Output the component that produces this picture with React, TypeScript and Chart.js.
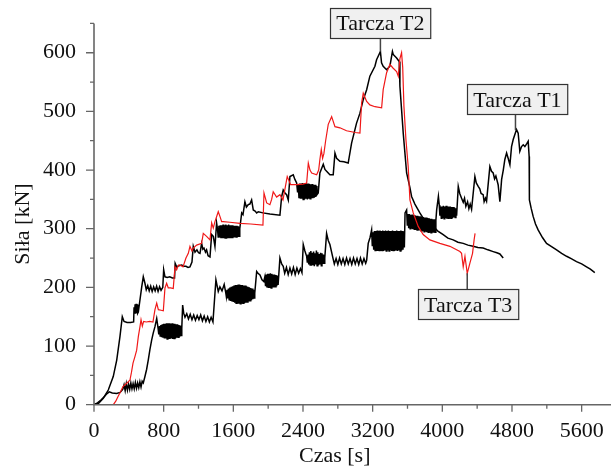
import React, { useEffect, useRef } from "react";
import { Chart, registerables } from "chart.js";

Chart.register(...registerables);

const FONT = '"Liberation Serif", "DejaVu Serif", serif';

const xMajorTicks = [0, 800, 1600, 2400, 3200, 4000, 4800, 5600];
const xMinorTicks = [400, 1200, 2000, 2800, 3600, 4400, 5200];
const yMajorTicks = [0, 100, 200, 300, 400, 500, 600];
const yMinorTicks = [50, 150, 250, 350, 450, 550, 650];
const xTitle = "Czas [s]";
const yTitle = "Siła [kN]";

const seriesNames = ["Tarcza T1", "Tarcza T2", "Tarcza T3"];
// anchor points (time, force) where each callout's leader meets its curve
const calloutAnchors: [number, number][] = [
  [4840, 468],
  [3289, 602],
  [4286, 224],
];

// Tarcza T1 (lower black curve) [time s, force kN]
const seriesT1: [number, number][] = [
  [0, 0], [40, 3], [80, 8], [120, 14], [150, 19], [175, 22], [210, 20], [260, 19], [300, 21], [330, 26],
  [345, 34], [358, 24], [371, 36], [384, 25], [397, 35], [410, 26], [423, 37], [436, 27], [449, 36], [462, 27],
  [475, 38], [488, 28], [501, 37], [514, 29], [527, 39], [540, 30], [553, 40], [566, 37],
  [585, 48], [604, 60], [623, 76], [642, 94], [662, 110], [680, 122], [700, 133], [720, 147],
  [736, 130], [744, 120], [752, 134], [760, 117], [768, 136], [776, 115], [784, 137], [792, 114], [800, 138],
  [808, 113], [816, 138], [824, 113], [832, 139], [840, 112], [848, 139], [856, 112], [864, 139], [872, 112],
  [880, 138], [888, 113], [896, 139], [904, 112], [912, 138], [920, 113], [928, 138], [936, 113], [944, 137],
  [952, 114], [960, 137], [968, 115], [976, 136], [984, 116], [992, 135], [1000, 118], [1008, 130],
  [1018, 170], [1030, 156],
  [1045, 149], [1065, 155], [1085, 146], [1105, 154], [1125, 145], [1145, 153], [1165, 144], [1185, 152],
  [1205, 145], [1225, 153], [1245, 143], [1265, 151], [1285, 142], [1305, 150], [1325, 141], [1345, 149], [1366, 141],
  [1400, 213], [1427, 193], [1446, 201], [1470, 194], [1495, 205],
  [1512, 192], [1520, 184], [1528, 196], [1536, 181], [1544, 198], [1552, 179], [1560, 200], [1568, 177],
  [1576, 201], [1584, 176], [1592, 202], [1600, 175], [1608, 203], [1616, 174], [1624, 204], [1632, 173],
  [1640, 204], [1648, 172], [1656, 205], [1664, 172], [1672, 205], [1680, 172], [1688, 204], [1696, 172],
  [1704, 204], [1712, 173], [1720, 203], [1728, 173], [1736, 203], [1744, 174], [1752, 202], [1760, 175],
  [1768, 201], [1776, 176], [1784, 200], [1792, 177], [1800, 199], [1808, 178], [1816, 198], [1824, 180],
  [1832, 196], [1840, 182], [1846, 190],
  [1868, 227], [1883, 224], [1906, 221], [1929, 213], [1950, 210],
  [1962, 218], [1970, 202], [1978, 222], [1986, 200], [1994, 223], [2002, 199], [2010, 223], [2018, 199],
  [2026, 224], [2034, 199], [2042, 223], [2050, 200], [2058, 222], [2066, 200], [2074, 222], [2082, 201],
  [2090, 221], [2098, 202], [2106, 220], [2114, 204],
  [2135, 250], [2155, 240], [2173, 236],
  [2190, 224], [2210, 234], [2230, 222], [2250, 233], [2270, 223], [2290, 234], [2310, 222], [2330, 233],
  [2350, 224], [2370, 232], [2388, 225],
  [2403, 273], [2422, 262], [2442, 253],
  [2450, 242], [2458, 256], [2466, 239], [2474, 260], [2482, 238], [2490, 262], [2498, 237], [2506, 259],
  [2514, 238], [2522, 261], [2530, 236], [2538, 258], [2546, 239], [2554, 263], [2562, 237], [2570, 260],
  [2578, 238], [2586, 257], [2594, 239], [2602, 259], [2610, 237], [2618, 258], [2626, 240], [2634, 256],
  [2642, 241], [2650, 250],
  [2671, 292], [2690, 280], [2709, 273], [2744, 250],
  [2760, 240], [2780, 249], [2800, 239], [2820, 250], [2840, 240], [2860, 249], [2880, 239], [2900, 250],
  [2920, 240], [2940, 249], [2960, 239], [2980, 250], [3000, 240], [3020, 249], [3040, 239], [3060, 250],
  [3080, 240], [3100, 249], [3120, 241], [3131, 246],
  [3149, 275], [3170, 285], [3188, 298],
  [3196, 270], [3204, 294], [3212, 264], [3220, 296], [3228, 263], [3236, 296], [3244, 262], [3252, 297],
  [3260, 262], [3268, 296], [3276, 263], [3284, 297], [3292, 262], [3300, 296], [3308, 263], [3316, 297],
  [3324, 262], [3332, 296], [3340, 263], [3348, 297], [3356, 262], [3364, 296], [3372, 263], [3380, 297],
  [3388, 262], [3396, 296], [3404, 263], [3412, 296], [3420, 262], [3428, 297], [3436, 263], [3444, 296],
  [3452, 262], [3460, 296], [3468, 263], [3476, 297], [3484, 262], [3492, 296], [3500, 263], [3508, 296],
  [3516, 262], [3524, 297], [3532, 263], [3540, 296], [3548, 264], [3556, 295], [3564, 268],
  [3572, 327], [3590, 332],
  [3598, 305], [3606, 325], [3614, 301], [3622, 325], [3630, 300], [3638, 324], [3646, 300], [3654, 324],
  [3662, 299], [3670, 323], [3678, 299], [3686, 323], [3694, 298], [3702, 322], [3710, 298], [3718, 322],
  [3726, 297], [3734, 321], [3742, 297], [3750, 321], [3758, 296], [3766, 320], [3774, 296], [3782, 320],
  [3790, 295], [3798, 319], [3806, 295], [3814, 319], [3822, 294], [3830, 318], [3838, 294], [3846, 318],
  [3854, 293], [3862, 317], [3870, 293], [3878, 317], [3886, 293], [3894, 316], [3902, 293], [3910, 316],
  [3918, 294], [3926, 314],
  [3935, 332], [3955, 355], [3965, 340],
  [3972, 322], [3980, 338], [3988, 318], [3996, 338], [4004, 318], [4012, 339], [4020, 317], [4028, 338],
  [4036, 318], [4044, 339], [4052, 317], [4060, 338], [4068, 318], [4076, 338], [4084, 317], [4092, 338],
  [4100, 318], [4108, 337], [4116, 318], [4124, 337], [4132, 319], [4140, 336], [4148, 319], [4156, 335], [4164, 322],
  [4183, 372], [4200, 360], [4221, 352], [4240, 345], [4255, 352], [4270, 338], [4290, 346], [4305, 334],
  [4320, 342], [4336, 333],
  [4374, 389], [4390, 378], [4412, 372], [4430, 368], [4445, 360], [4469, 358], [4480, 346], [4495, 352], [4508, 347],
  [4546, 406], [4565, 398], [4584, 395], [4600, 385], [4615, 390], [4641, 375], [4661, 346], [4681, 384],
  [4700, 400], [4718, 418], [4738, 429], [4756, 420], [4776, 409], [4795, 440], [4814, 452], [4852, 469],
  [4871, 463], [4890, 432], [4910, 440], [4929, 443], [4948, 440], [4970, 445], [4986, 449], [4997, 423],
  [5000, 349], [5020, 335], [5043, 321], [5070, 308], [5100, 298], [5150, 285], [5197, 275], [5250, 270],
  [5312, 264], [5370, 258], [5427, 253], [5480, 249], [5541, 244], [5600, 240], [5656, 235], [5700, 231], [5751, 225],
];

// Tarcza T2 (upper black curve)
const seriesT2: [number, number][] = [
  [0, 0], [50, 2], [107, 11], [164, 25], [221, 48], [261, 76], [298, 116], [325, 150], [345, 142], [380, 140],
  [420, 140], [455, 141],
  [460, 166], [466, 155], [472, 171], [478, 155], [484, 172], [490, 156], [496, 171], [502, 156],
  [509, 158], [548, 201], [566, 218], [585, 207],
  [600, 196], [617, 203], [634, 194], [651, 202], [668, 193], [685, 201], [702, 194], [719, 202], [736, 193],
  [753, 201], [770, 195], [790, 200],
  [800, 230], [815, 218], [840, 217], [870, 218], [900, 216], [925, 216], [932, 241], [949, 235], [975, 237],
  [1007, 238], [1030, 236], [1056, 236], [1080, 234], [1102, 235], [1125, 243], [1140, 270], [1160, 260],
  [1182, 264], [1200, 259], [1217, 258], [1236, 275], [1250, 265], [1263, 267], [1280, 260], [1293, 264],
  [1310, 254], [1332, 252], [1351, 290], [1370, 287], [1389, 270], [1408, 310],
  [1418, 300], [1426, 286], [1434, 305], [1442, 285], [1450, 306], [1458, 284], [1466, 306], [1474, 284],
  [1482, 307], [1490, 284], [1498, 306], [1506, 284], [1514, 307], [1522, 283], [1530, 306], [1538, 284],
  [1546, 307], [1554, 284], [1562, 306], [1570, 284], [1578, 306], [1586, 285], [1594, 306], [1602, 285],
  [1610, 305], [1618, 285], [1626, 305], [1634, 286], [1642, 305], [1650, 286], [1658, 304], [1666, 287], [1674, 300],
  [1696, 327], [1711, 324], [1733, 346], [1750, 337], [1771, 341], [1790, 342], [1810, 349], [1829, 332],
  [1850, 330], [1868, 327], [1887, 329], [1940, 327], [2020, 325], [2135, 323],
  [2155, 355], [2173, 366], [2193, 361], [2212, 358], [2231, 349], [2250, 389], [2288, 392], [2307, 384], [2327, 378],
  [2338, 362], [2346, 376], [2354, 352], [2362, 377], [2370, 351], [2378, 377], [2386, 351], [2394, 378],
  [2402, 350], [2410, 377], [2418, 350], [2426, 378], [2434, 351], [2442, 377], [2450, 350], [2458, 377],
  [2466, 351], [2474, 376], [2482, 351], [2490, 376], [2498, 352], [2506, 376], [2514, 352], [2522, 375],
  [2530, 353], [2538, 375], [2546, 354], [2554, 373], [2560, 358],
  [2575, 361], [2594, 395], [2633, 410], [2652, 401], [2671, 398], [2709, 392], [2747, 392], [2767, 429],
  [2786, 420], [2824, 415], [2870, 414], [2919, 412], [2958, 446], [3015, 480], [3054, 497], [3092, 520],
  [3131, 537], [3168, 560], [3226, 577], [3245, 588], [3289, 602], [3302, 583], [3321, 577], [3360, 571],
  [3379, 574], [3398, 577], [3427, 602], [3436, 597], [3475, 591], [3505, 585], [3513, 543], [3551, 463],
  [3590, 395], [3628, 370], [3647, 355], [3685, 342], [3742, 327], [3780, 318], [3834, 310], [3895, 304],
  [3949, 296], [4010, 290], [4064, 284], [4125, 281], [4179, 277], [4240, 275], [4294, 272], [4354, 270],
  [4408, 268], [4469, 267], [4523, 264], [4584, 261], [4626, 259], [4661, 257], [4699, 250],
];

// Tarcza T3 (red curve)
const seriesT3: [number, number][] = [
  [0, 0], [222, 0], [250, 6], [276, 14], [305, 22], [333, 31], [379, 37], [413, 42], [430, 55], [448, 71],
  [470, 82], [490, 93], [509, 116], [528, 133], [540, 145], [555, 134], [570, 142], [600, 141], [640, 142],
  [677, 141], [700, 162], [720, 173], [739, 162], [770, 161], [796, 160], [815, 199], [834, 207], [853, 199],
  [880, 199], [910, 198], [930, 235], [949, 230], [970, 238], [987, 238], [1022, 235], [1056, 250], [1083, 258],
  [1102, 270], [1125, 262], [1140, 267], [1179, 272], [1236, 275], [1255, 292], [1293, 287], [1332, 281],
  [1351, 310], [1370, 301], [1389, 312], [1427, 329], [1446, 321], [1466, 312], [1484, 312], [1560, 311],
  [1676, 309], [1800, 308], [1940, 306], [1952, 361], [1983, 344], [2020, 341], [2040, 350], [2058, 363],
  [2097, 354], [2135, 358], [2170, 349], [2219, 389], [2258, 375], [2327, 375], [2400, 376], [2442, 378],
  [2461, 412], [2480, 400], [2500, 395], [2557, 392], [2580, 400], [2594, 418], [2610, 435], [2625, 420],
  [2640, 428], [2660, 450], [2690, 478], [2729, 491], [2767, 474], [2824, 472], [2900, 467], [3000, 464],
  [3054, 463], [3073, 514], [3092, 531], [3131, 517], [3168, 511], [3226, 508], [3303, 506], [3321, 537],
  [3360, 566], [3398, 580], [3433, 574], [3475, 568], [3494, 560], [3513, 590], [3532, 600], [3545, 575],
  [3559, 509], [3582, 452], [3608, 406], [3628, 349], [3666, 327], [3723, 304], [3780, 290], [3857, 281],
  [3972, 275], [4087, 270], [4202, 261], [4221, 258], [4240, 235], [4260, 253], [4286, 224], [4316, 241],
  [4347, 258], [4365, 281], [4376, 292],
];

// callout box centre offsets in pixels from their anchors
const calloutOffsets: [number, number][] = [
  [2, -31],
  [0, -29],
  [1, 31],
];

const overlayPlugin = {
  id: "overlay",
  afterDatasetsDraw(chart: any) {
    const { ctx, chartArea: ca, scales } = chart;
    const xs = scales.x;
    const ys = scales.y;
    ctx.save();
    ctx.strokeStyle = "#666";
    ctx.lineWidth = 1.6;
    ctx.beginPath();
    ctx.moveTo(ca.left, ca.top);
    ctx.lineTo(ca.left, ca.bottom);
    ctx.lineTo(ca.right, ca.bottom);
    ctx.stroke();
    ctx.lineWidth = 1.3;
    ctx.beginPath();
    for (const v of xMajorTicks) {
      const px = xs.getPixelForValue(v);
      ctx.moveTo(px, ca.bottom);
      ctx.lineTo(px, ca.bottom + 7);
    }
    for (const v of xMinorTicks) {
      const px = xs.getPixelForValue(v);
      ctx.moveTo(px, ca.bottom);
      ctx.lineTo(px, ca.bottom + 4);
    }
    for (const v of yMajorTicks) {
      const py = ys.getPixelForValue(v);
      ctx.moveTo(ca.left, py);
      ctx.lineTo(ca.left - 8, py);
    }
    for (const v of yMinorTicks) {
      const py = ys.getPixelForValue(v);
      ctx.moveTo(ca.left, py);
      ctx.lineTo(ca.left - 4, py);
    }
    ctx.stroke();

    ctx.fillStyle = "#111";
    ctx.font = `22px ${FONT}`;
    ctx.textBaseline = "alphabetic";
    ctx.textAlign = "center";
    for (const v of xMajorTicks) {
      ctx.fillText(String(v), xs.getPixelForValue(v), ca.bottom + 32.5);
    }
    ctx.textAlign = "right";
    for (const v of yMajorTicks) {
      ctx.fillText(String(v), ca.left - 18, ys.getPixelForValue(v) + 5.5);
    }
    ctx.textAlign = "left";
    ctx.fillText(xTitle, 299, 462);
    ctx.save();
    ctx.translate(28.5, 224);
    ctx.rotate(-Math.PI / 2);
    ctx.textAlign = "center";
    ctx.fillText(yTitle, 0, 0);
    ctx.restore();

    seriesNames.forEach((name, i) => {
      const [ax, ay] = calloutAnchors[i];
      const [dx, dy] = calloutOffsets[i];
      const px = xs.getPixelForValue(ax);
      const py = ys.getPixelForValue(ay);
      const cx = px + dx;
      const cy = py + dy;
      const tw = ctx.measureText(name).width;
      const w = tw + 12;
      const h = 30;
      const left = Math.round(cx - w / 2) + 0.5;
      const top = Math.round(cy - h / 2) + 0.5;
      ctx.strokeStyle = "#444";
      ctx.lineWidth = 1.5;
      ctx.beginPath();
      if (dy < 0) {
        ctx.moveTo(px, top + h);
        ctx.lineTo(px, py);
      } else {
        ctx.moveTo(px, top);
        ctx.lineTo(px, py);
      }
      ctx.stroke();
      ctx.fillStyle = "#f0f0f0";
      ctx.fillRect(left, top, w, h);
      ctx.strokeStyle = "#333";
      ctx.lineWidth = 1.2;
      ctx.strokeRect(left, top, w, h);
      ctx.fillStyle = "#111";
      ctx.textAlign = "center";
      ctx.fillText(name, cx, cy + 7.5);
    });
    ctx.restore();
  },
};

export default function App() {
  const ref = useRef<HTMLCanvasElement | null>(null);
  useEffect(() => {
    if (!ref.current) return;
    const toPts = (s: [number, number][]) => s.map(([t, f]) => ({ x: t, y: f }));
    const chart = new Chart(ref.current, {
      type: "line",
      data: {
        datasets: [
          {
            label: seriesNames[2],
            data: toPts(seriesT3),
            borderColor: "#f01818",
            borderWidth: 1.2,
            order: 0,
          },
          {
            label: seriesNames[1],
            data: toPts(seriesT2),
            borderColor: "#000",
            borderWidth: 1.5,
            order: 1,
          },
          {
            label: seriesNames[0],
            data: toPts(seriesT1),
            borderColor: "#000",
            borderWidth: 1.5,
            order: 2,
          },
        ],
      },
      options: {
        responsive: false,
        animation: false,
        layout: { padding: { left: 94, right: 0, top: 23.4, bottom: 70.3 } },
        scales: {
          x: { type: "linear", min: 0, max: 5937, display: false },
          y: { type: "linear", min: 0, max: 650, display: false },
        },
        elements: {
          point: { radius: 0 },
          line: { tension: 0 },
        },
        plugins: {
          legend: { display: false },
          tooltip: { enabled: false },
        },
      },
      plugins: [overlayPlugin],
    });
    return () => chart.destroy();
  }, []);
  return (
    <div style={{ position: "absolute", left: 0, top: 0, width: 611, height: 475, background: "#fff" }}>
      <canvas ref={ref} width={611} height={475} style={{ display: "block" }} />
    </div>
  );
}
